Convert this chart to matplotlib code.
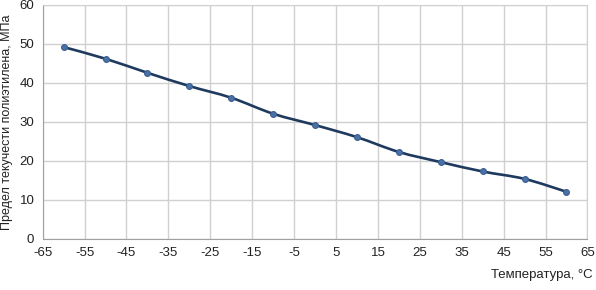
import matplotlib
matplotlib.use("Agg")
import matplotlib.pyplot as plt
from matplotlib.path import Path
from matplotlib.patches import PathPatch
import numpy as np

plt.rcParams['font.family'] = ['Liberation Sans', 'DejaVu Sans']
plt.rcParams['axes.unicode_minus'] = False

# temperature, deg C and yield strength, MPa
temps = [-60, -50, -40, -30, -20, -10, 0, 10, 20, 30, 40, 50, 60]
strength = [49.2, 46.2, 42.6, 39.2, 36.2, 32.1, 29.2, 26.1, 22.3, 19.7, 17.3, 15.4, 12.1]
xticks = list(range(-65, 66, 10))
yticks = list(range(0, 61, 10))


def smooth_path(x, y, t=1/6):
    # Excel-style smoothed line: cubic Bezier through every point
    x = np.asarray(x, float)
    y = np.asarray(y, float)
    verts = [(x[0], y[0])]
    codes = [Path.MOVETO]
    n = len(x)
    for i in range(n - 1):
        x0, y0 = (x[i-1], y[i-1]) if i > 0 else (x[i], y[i])
        x3, y3 = (x[i+2], y[i+2]) if i + 2 < n else (x[i+1], y[i+1])
        c1 = (x[i] + (x[i+1] - x0) * t, y[i] + (y[i+1] - y0) * t)
        c2 = (x[i+1] - (x3 - x[i]) * t, y[i+1] - (y3 - y[i]) * t)
        verts += [c1, c2, (x[i+1], y[i+1])]
        codes += [Path.CURVE4] * 3
    return Path(verts, codes)


fig = plt.figure(figsize=(5.96, 2.90), dpi=100)
ax = fig.add_axes([0.0716, 0.176, 0.914, 0.807])

ax.add_patch(PathPatch(smooth_path(temps, strength), facecolor='none',
                       edgecolor='#1f3a5f', lw=1.9, zorder=3))
ax.plot(temps, strength, ls='none', marker='o', ms=4.2,
        mfc='#4a72a8', mec='#3b5f8f', mew=0.8, zorder=4)

ax.set_xlim(-65, 65)
ax.set_ylim(0, 60)
ax.set_xticks(xticks)
ax.set_yticks(yticks)
ax.grid(True, color='#d0d0d0', lw=1.0)
ax.set_axisbelow(True)
for s in ax.spines.values():
    s.set_color('#d0d0d0')
ax.spines['left'].set_color('#a0a0a0')
ax.spines['bottom'].set_color('#a0a0a0')
ax.tick_params(length=0, labelsize=9.5, colors='#222222', pad=6)

ax.set_ylabel('Предел текучести полиэтилена, МПа', fontsize=9, color='#222222', labelpad=5)
fig.text(0.995, 0.03, 'Температура, °C', ha='right', va='bottom', fontsize=9.5, color='#222222')

fig.savefig('out.png', dpi=100, facecolor='white')
